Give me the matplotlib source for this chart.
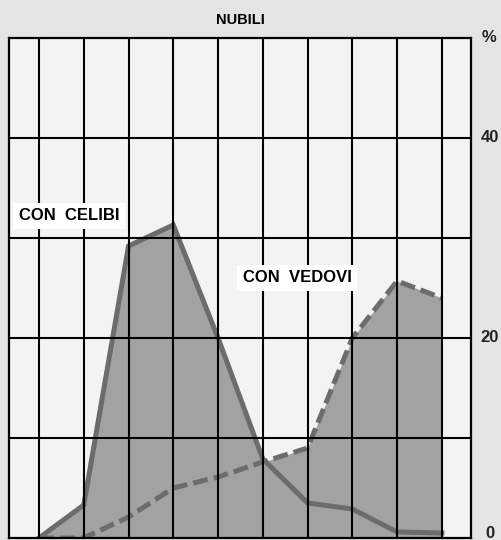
import matplotlib.pyplot as plt
import numpy as np

# positions along the x axis (one per vertical grid line), values in %
pos = np.arange(10)
celibi = [0, 3.3, 29.2, 31.3, 20.0, 7.9, 3.5, 2.9, 0.6, 0.5]
vedovi = [0, 0, 2.1, 5.0, 6.1, 7.6, 9.0, 20.0, 25.7, 24.0]

ytick_vals = [0, 20, 40, 50]
ytick_labels = ['0', '20', '40', '%']

line_col = '#6c6c6c'
fill_col = '#a2a2a2'

fig = plt.figure(figsize=(5.02, 5.40), dpi=100, facecolor='#e4e4e4')
ax = fig.add_axes([9/502, 2/540, 462/502, 500/540])
ax.set_facecolor('#f3f3f3')

ax.fill_between(pos, celibi, color=fill_col, lw=0, zorder=1)
ax.fill_between(pos, vedovi, color=fill_col, lw=0, zorder=1)
ax.plot(pos, celibi, color=line_col, lw=3.6, solid_joinstyle='miter', zorder=2)
ax.plot(pos, vedovi, color=line_col, lw=3.6, dashes=(3, 1.2),
        dash_capstyle='butt', zorder=2)

# grid on top of the areas
for x in pos:
    ax.axvline(x, color='black', lw=1.5, zorder=3)
for y in range(10, 50, 10):
    ax.axhline(y, color='black', lw=1.5, zorder=3)

ax.set_xlim(-0.67, 9.65)
ax.set_ylim(0, 50)
ax.set_xticks([])
ax.set_yticks([])
for s in ax.spines.values():
    s.set_linewidth(1.6)
    s.set_zorder(4)

for v, lab in zip(ytick_vals, ytick_labels):
    yy = v if v > 0 else 0.5
    ax.text(1.04, yy, lab, transform=ax.get_yaxis_transform(), fontsize=12,
            fontweight='bold', color='#222222', ha='center', va='center',
            family='Liberation Sans')

ax.text(0.5, 1.037, 'NUBILI', transform=ax.transAxes, fontsize=10.5,
        fontweight='bold', ha='center', va='center', family='Liberation Sans')

box = dict(facecolor='white', edgecolor='none', pad=4)
ax.text(-0.45, 32.2, 'CON  CELIBI', fontsize=12, fontweight='bold',
        ha='left', va='center', family='Liberation Sans', bbox=box, zorder=5)
ax.text(4.55, 26.0, 'CON  VEDOVI', fontsize=12, fontweight='bold',
        ha='left', va='center', family='Liberation Sans', bbox=box, zorder=5)

fig.savefig('out.png', dpi=100, facecolor=fig.get_facecolor())
